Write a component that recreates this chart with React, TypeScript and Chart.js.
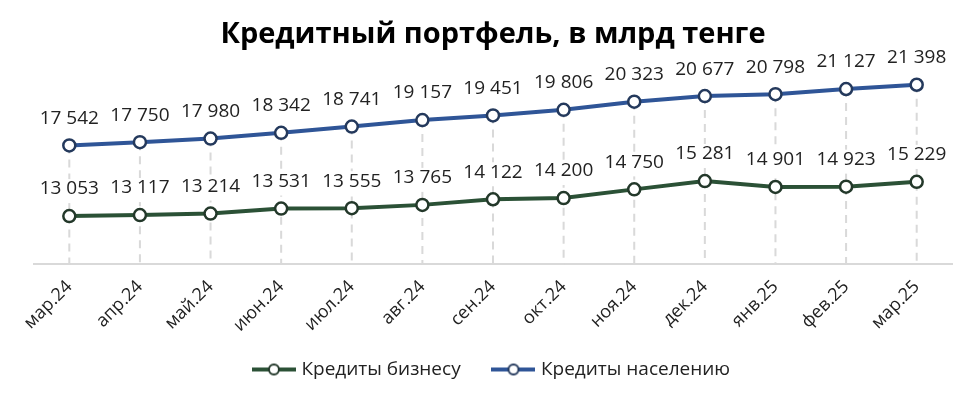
import { useEffect, useRef } from "react";
import { Chart, registerables } from "chart.js";

Chart.register(...registerables);

const chartTitle = "Кредитный портфель, в млрд тенге";
const categories = [
  "мар.24", "апр.24", "май.24", "июн.24", "июл.24", "авг.24", "сен.24",
  "окт.24", "ноя.24", "дек.24", "янв.25", "фев.25", "мар.25",
];
const businessName = "Кредиты бизнесу";
const householdName = "Кредиты населению";
const businessLoans = [13053, 13117, 13214, 13531, 13555, 13765, 14122, 14200, 14750, 15281, 14901, 14923, 15229];
const householdLoans = [17542, 17750, 17980, 18342, 18741, 19157, 19451, 19806, 20323, 20677, 20798, 21127, 21398];
const yMin = 10000;
const yMax = 24000;

const GREEN = "#2b5136";
const GREEN_PT = "#23382a";
const BLUE = "#2f5597";
const BLUE_PT = "#24395c";
const FONT = "'Open Sans', sans-serif";

function fmt(v: number): string {
  return String(v).replace(/\B(?=(\d{3})+(?!\d))/g, " ");
}

function legendIcon(lineColor: string, ptColor: string): HTMLCanvasElement {
  const c = document.createElement("canvas");
  c.width = 44;
  c.height = 14;
  const ctx = c.getContext("2d")!;
  ctx.strokeStyle = lineColor;
  ctx.lineWidth = 4;
  ctx.beginPath();
  ctx.moveTo(0, 7);
  ctx.lineTo(44, 7);
  ctx.stroke();
  ctx.beginPath();
  ctx.arc(22, 7, 5, 0, Math.PI * 2);
  ctx.fillStyle = "#fff";
  ctx.fill();
  ctx.lineWidth = 2;
  ctx.strokeStyle = ptColor;
  ctx.stroke();
  return c;
}

const dropLines = {
  id: "dropLines",
  beforeDatasetsDraw(chart: any) {
    const { ctx, chartArea } = chart;
    const metas = chart.getSortedVisibleDatasetMetas();
    if (!metas.length) return;
    const n = metas[0].data.length;
    ctx.save();
    ctx.strokeStyle = "#d9d9d9";
    ctx.lineWidth = 2;
    ctx.setLineDash([8, 6]);
    for (let i = 0; i < n; i++) {
      let top = Infinity;
      let x = 0;
      metas.forEach((m: any) => {
        const p = m.data[i];
        if (p && p.y < top) { top = p.y; x = p.x; }
      });
      ctx.beginPath();
      ctx.moveTo(x, top);
      ctx.lineTo(x, chartArea.bottom);
      ctx.stroke();
    }
    ctx.restore();
  },
};

const valueLabels = {
  id: "valueLabels",
  afterDatasetsDraw(chart: any) {
    const { ctx } = chart;
    ctx.save();
    ctx.font = `19px ${FONT}`;
    ctx.textAlign = "center";
    ctx.textBaseline = "middle";
    chart.getSortedVisibleDatasetMetas().forEach((m: any) => {
      const data = chart.data.datasets[m.index].data as number[];
      m.data.forEach((p: any, i: number) => {
        const txt = fmt(data[i]);
        const w = ctx.measureText(txt).width;
        const cy = p.y - 27;
        ctx.fillStyle = "#ffffff";
        ctx.fillRect(p.x - w / 2 - 2, cy - 10, w + 4, 24);
        ctx.fillStyle = "#222222";
        ctx.fillText(txt, p.x, cy);
      });
    });
    ctx.restore();
  },
};

export default function App() {
  const ref = useRef<HTMLCanvasElement | null>(null);

  useEffect(() => {
    document.body.style.margin = "0";
    if (!ref.current) return;
    const icons = [legendIcon(GREEN, GREEN_PT), legendIcon(BLUE, BLUE_PT)];
    const chart = new Chart(ref.current, {
      type: "line",
      data: {
        labels: categories,
        datasets: [
          {
            label: businessName,
            data: businessLoans,
            borderColor: GREEN,
            borderWidth: 4,
            pointRadius: 6,
            pointBorderWidth: 2.5,
            pointBackgroundColor: "#ffffff",
            pointBorderColor: GREEN_PT,
            tension: 0,
          },
          {
            label: householdName,
            data: householdLoans,
            borderColor: BLUE,
            borderWidth: 4,
            pointRadius: 6,
            pointBorderWidth: 2.5,
            pointBackgroundColor: "#ffffff",
            pointBorderColor: BLUE_PT,
            tension: 0,
          },
        ],
      },
      options: {
        animation: false,
        responsive: true,
        maintainAspectRatio: false,
        layout: { padding: { left: 34, right: 22, top: 0, bottom: 8 } },
        plugins: {
          title: {
            display: true,
            text: chartTitle,
            color: "#000000",
            font: { family: FONT, size: 29, weight: "bold" },
            padding: { top: 17, bottom: -8 },
          },
          legend: {
            position: "bottom",
            labels: {
              usePointStyle: true,
              pointStyleWidth: 36,
              color: "#222222",
              font: { family: FONT, size: 19 },
              padding: 20,
              generateLabels: (c: any) => {
                const items = Chart.defaults.plugins.legend.labels.generateLabels(c);
                return items.map((it: any, i: number) => ({
                  ...it,
                  text: i < items.length - 1 ? it.text + "   " : it.text,
                  pointStyle: icons[i],
                }));
              },
            },
          },
          tooltip: { enabled: false },
        },
        scales: {
          x: {
            offset: true,
            grid: { display: false },
            border: { display: true, color: "#d9d9d9", width: 2 },
            ticks: {
              color: "#222222",
              font: { family: FONT, size: 18 },
              maxRotation: 45,
              minRotation: 45,
              padding: 4,
            },
          },
          y: {
            display: false,
            min: yMin,
            max: yMax,
          },
        },
      },
      plugins: [dropLines, valueLabels],
    });
    return () => chart.destroy();
  }, []);

  return (
    <div style={{ width: 974, height: 397, position: "relative" }}>
      <canvas ref={ref} />
    </div>
  );
}
